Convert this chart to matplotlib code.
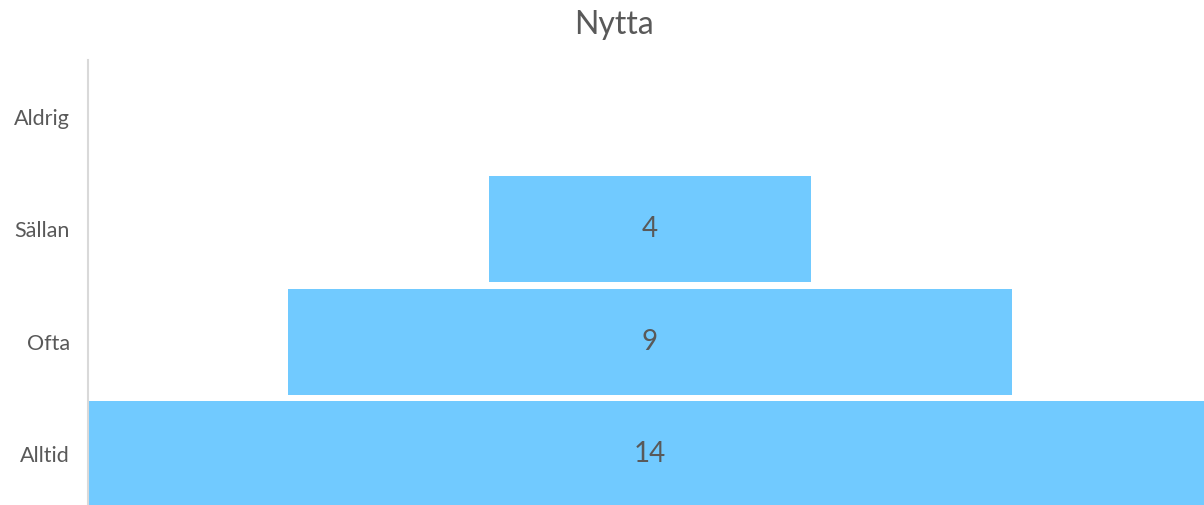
import matplotlib.pyplot as plt

# Funnel data (bottom to top)
categories = ['Alltid', 'Ofta', 'Sällan', 'Aldrig']
values = [14, 9, 4, 0]

bar_color = '#71CAFF'
text_color = '#595959'

plt.rcParams['font.family'] = ['Lato', 'DejaVu Sans']

fig = plt.figure(figsize=(12.04, 5.05), dpi=100)
ax = fig.add_axes([88 / 1204, 0, 1 - 88 / 1204, 445 / 505])

y = list(range(len(categories)))
lefts = [-v / 2 for v in values]
bars = ax.barh(y, values, left=lefts, height=0.94, color=bar_color)

for yi, v in zip(y, values):
    if v > 0:
        ax.text(0, yi, str(v), ha='center', va='center', fontsize=20, color=text_color)

ax.set_xlim(-6.98, 6.88)
ax.set_ylim(-0.451, 3.504)
ax.set_yticks(y)
ax.set_yticklabels(categories, fontsize=15.5, color=text_color)
ax.tick_params(axis='y', length=0, pad=13)
ax.set_xticks([])

for side in ['top', 'right', 'bottom']:
    ax.spines[side].set_visible(False)
ax.spines['left'].set_color('#d9d9d9')
ax.spines['left'].set_linewidth(1.5)

fig.text(614 / 1204, 1 - 25 / 505, 'Nytta', ha='center', va='center', fontsize=23, color=text_color)

plt.savefig('out.png', dpi=100, facecolor='white')
